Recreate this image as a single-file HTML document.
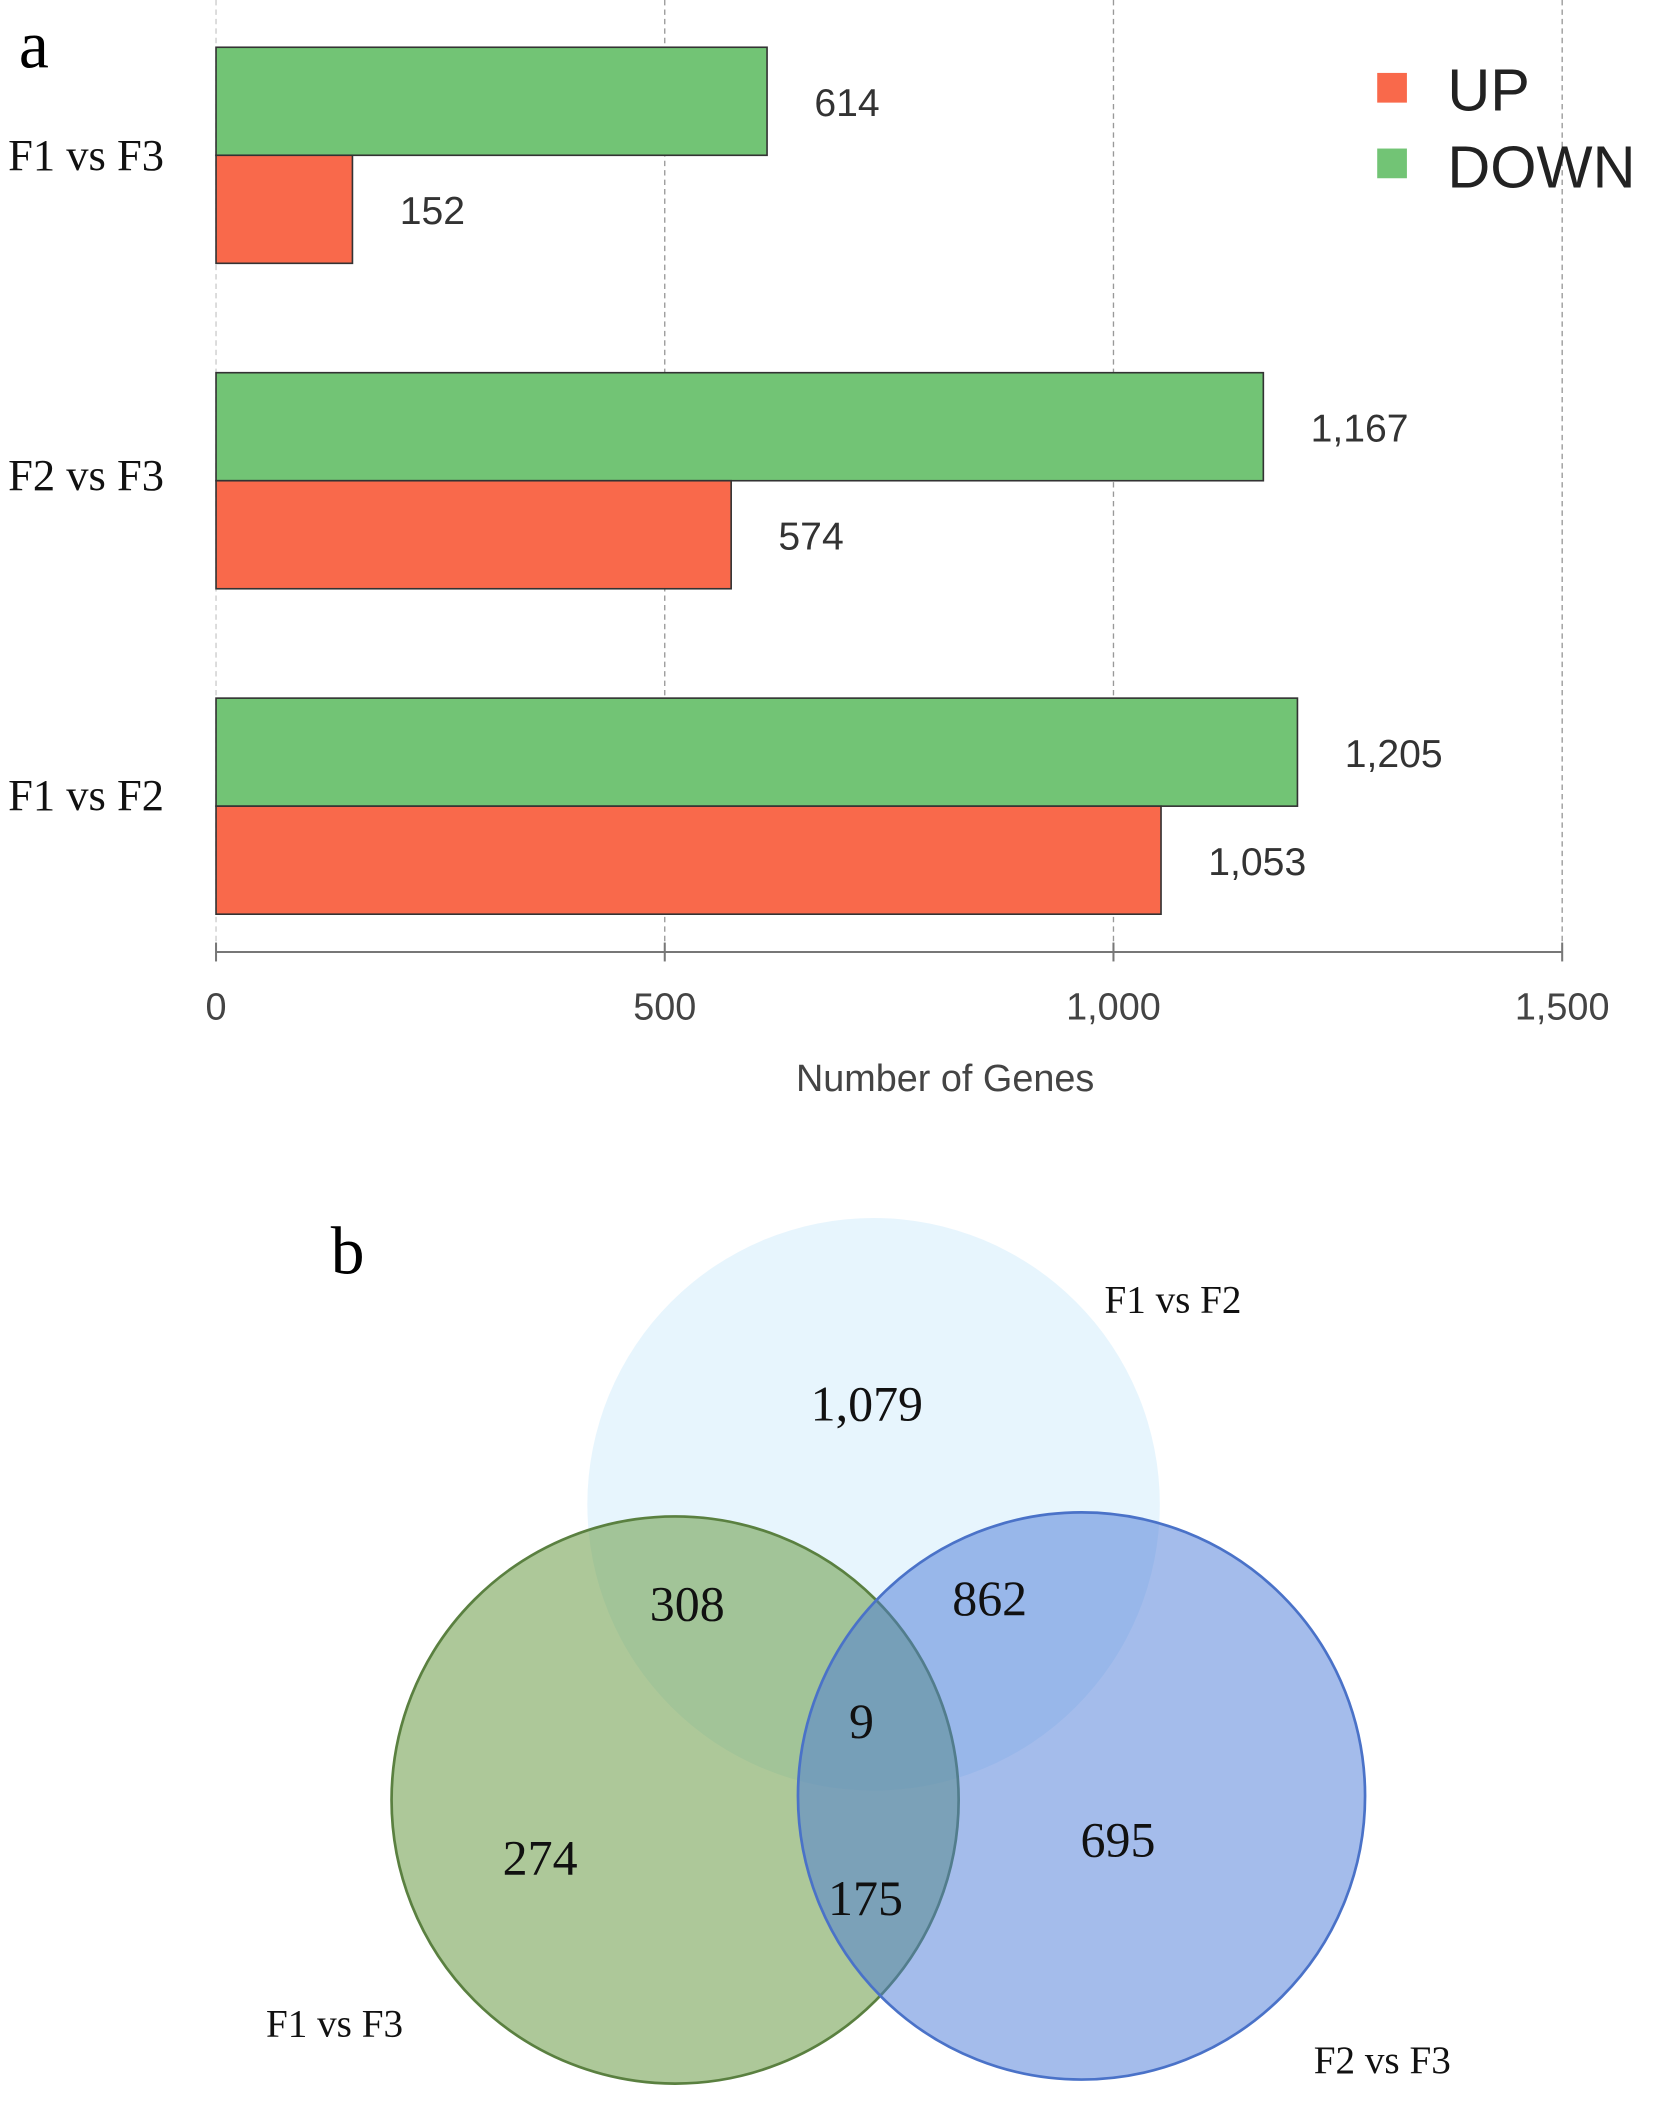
<!DOCTYPE html>
<html><head><meta charset="utf-8"><style>
html,body{margin:0;padding:0;background:#fff;}
svg{display:block;}
.serif{font-family:"Liberation Serif",serif;}
.sans{font-family:"Liberation Sans",sans-serif;}
</style></head><body>
<svg id="chart" width="1654" height="2116" viewBox="0 0 1225 1567" preserveAspectRatio="none">
<text x="14" y="50" class="serif" font-size="50" fill="#000">a</text>
<g id="grid"></g>
<g id="bars"></g>
<g id="axis"></g>
<text x="700" y="808" text-anchor="middle" class="sans" font-size="28" fill="#444">Number of Genes</text>
<g>
<rect x="1020" y="54" width="22" height="22" fill="#f9694b"/>
<text x="1072" y="82" class="sans" font-size="44" fill="#222">UP</text>
<rect x="1020" y="110" width="22" height="22" fill="#72c475"/>
<text x="1072" y="139" class="sans" font-size="44" fill="#222">DOWN</text>
</g>
<text x="245" y="943" class="serif" font-size="50" fill="#000">b</text>
<g>
<circle cx="647" cy="1114" r="212" fill="#d0ecfb" fill-opacity="0.5"/>
<circle cx="500" cy="1333" r="210" fill="#6a9a46" fill-opacity="0.55" stroke="#5a8040" stroke-width="2"/>
<circle cx="801" cy="1330" r="210" fill="#4a7ad8" fill-opacity="0.5" stroke="#4a72c8" stroke-width="2"/>
</g>
<g class="serif" font-size="37" fill="#111" text-anchor="middle">
<text x="642" y="1052">1,079</text>
<text x="509" y="1200">308</text>
<text x="733" y="1196">862</text>
<text x="638" y="1287">9</text>
<text x="400" y="1388">274</text>
<text x="828" y="1375">695</text>
<text x="641" y="1418">175</text>
</g>
<g class="serif" font-size="29" fill="#111">
<text x="818" y="972">F1 vs F2</text>
<text x="197" y="1508">F1 vs F3</text>
<text x="973" y="1535">F2 vs F3</text>
</g>
</svg>
<script>
const categories = ["F1 vs F3", "F2 vs F3", "F1 vs F2"];
const downValues = [614, 1167, 1205];
const upValues = [152, 574, 1053];
const tickValues = [0, 500, 1000, 1500];
const tickLabels = ["0", "500", "1,000", "1,500"];
const NS = "http://www.w3.org/2000/svg";
const x0 = 160, x1 = 1157, xMax = 1500;
const xs = v => x0 + (x1 - x0) * v / xMax;
const groupTop = i => 35 + i * 241;
const barH = 80;
const fmt = v => v.toLocaleString("en-US");
function mk(tag, attrs, parent) { const e = document.createElementNS(NS, tag); for (const k in attrs) e.setAttribute(k, attrs[k]); parent.appendChild(e); return e; }
const grid = document.getElementById("grid"), bars = document.getElementById("bars"), axis = document.getElementById("axis");
tickValues.forEach((t, i) => {
  const gl = mk("line", {x1: xs(t), x2: xs(t), y1: 0, y2: 705, stroke: i === 0 ? "#ccc" : "#999", "stroke-dasharray": "4,3", "stroke-width": 1}, grid);
  
  
  const tk = mk("line", {x1: xs(t), x2: xs(t), y1: 698, y2: 712, stroke: "#777", "stroke-width": 1.5}, axis);
  
  
  const tl = mk("text", {x: xs(t), y: 755, "text-anchor": "middle", "font-family": "Liberation Sans, sans-serif", "font-size": 28, fill: "#444"}, axis);
  tl.textContent = tickLabels[i];
  
  
});
const al = mk("line", {x1: x0, x2: x1, y1: 705, y2: 705, stroke: "#777", "stroke-width": 1.5}, axis);


categories.forEach((c, i) => {
  const y = groupTop(i);
  const cl = mk("text", {x: 6, y: y + barH + 11 - i * 4, "font-family": "Liberation Serif, serif", "font-size": 33, fill: "#111"}, bars);
  cl.textContent = c;
  
  
  [[downValues[i], "#72c475", y, "bar-down"], [upValues[i], "#f9694b", y + barH, "bar-up"]].forEach(([v, col, by, nm]) => {
    const r = mk("rect", {x: x0, y: by, width: xs(v) - x0, height: barH, fill: col, stroke: "#333", "stroke-width": 1.2}, bars);
    
    
    const t = mk("text", {x: xs(v) + 35, y: by + 51, "font-family": "Liberation Sans, sans-serif", "font-size": 29, fill: "#333"}, bars);
    t.textContent = fmt(v);
    
    
  });
});
</script>
</body></html>
